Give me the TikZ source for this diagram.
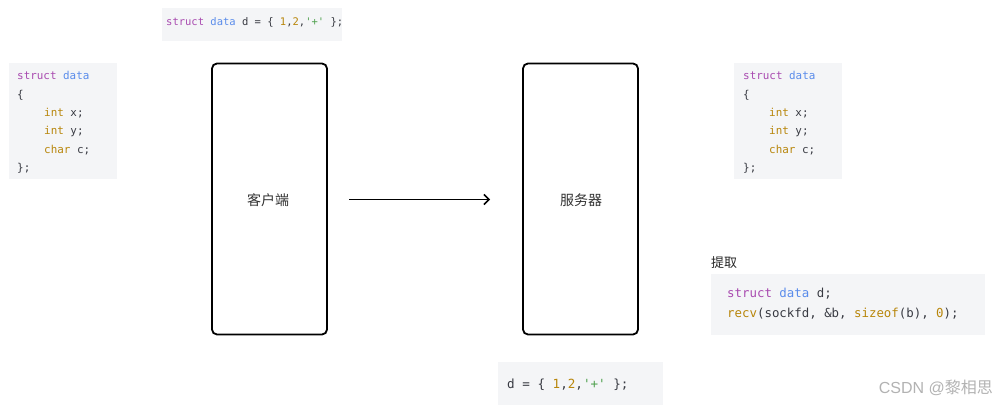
\documentclass[tikz,border=0pt]{standalone}
\usepackage{fontspec}
\setmainfont{Liberation Sans}
\setmonofont{DejaVu Sans Mono}
\newfontfamily\cjk{Noto Sans CJK SC}
\usetikzlibrary{arrows.meta}
\definecolor{kw}{HTML}{A94BB0}
\definecolor{ty}{HTML}{5A8CEB}
\definecolor{num}{HTML}{B8860B}
\definecolor{str}{HTML}{50A14F}
\definecolor{txt}{HTML}{383A42}
\definecolor{codebg}{HTML}{F4F5F7}
\newcommand{\Kw}[1]{\textcolor{kw}{#1}}
\newcommand{\Ty}[1]{\textcolor{ty}{#1}}
\newcommand{\Nm}[1]{\textcolor{num}{#1}}
\newcommand{\St}[1]{\textcolor{str}{#1}}
\tikzset{
  codebox/.style={fill=codebg, draw=none},
  codeline/.style={anchor=mid west, inner sep=0pt, text=txt},
  hostbox/.style={draw=black, line width=1.8pt, rounded corners=5pt, fill=white},
  hostlabel/.style={font=\cjk\fontsize{14}{16}\selectfont, text=black!80},
}
\begin{document}
\begin{tikzpicture}[x=1pt,y=-1pt]
\useasboundingbox (0,0) rectangle (998,411);
% code boxes
\fill[codebox] (162,8) rectangle (342,41);
\fill[codebox] (9,63) rectangle (117,179);
\fill[codebox] (734,63) rectangle (842,179);
\fill[codebox] (711,274) rectangle (985,335);
\fill[codebox] (498,362) rectangle (663,405);
% top
\node[codeline, font=\ttfamily\fontsize{10.5}{12}\selectfont] (top) at (166,23)
  {\Kw{struct} \Ty{data} d = \{ \Nm{1},\Nm{2},\St{'+'} \};};
% struct definitions
\begin{scope}[every node/.style={codeline, font=\ttfamily\fontsize{10.9}{12}\selectfont}]
\node (l1) at (17,77) {\Kw{struct} \Ty{data}};
\node (l2) at (17,95.5) {\{};
\node (l3) at (44,113.5) {\Nm{int} x;};
\node (l4) at (44,132) {\Nm{int} y;};
\node (l5) at (44,150.5) {\Nm{char} c;};
\node (l6) at (17,169) {\};};
\node (r1) at (743,77) {\Kw{struct} \Ty{data}};
\node (r2) at (743,95.5) {\{};
\node (r3) at (769,113.5) {\Nm{int} x;};
\node (r4) at (769,132) {\Nm{int} y;};
\node (r5) at (769,150.5) {\Nm{char} c;};
\node (r6) at (743,169) {\};};
\end{scope}
% hosts
\node[hostbox, minimum width=115pt, minimum height=271pt] (client) at (269.5,199) {};
\node[hostbox, minimum width=115pt, minimum height=271pt] (server) at (580.5,199) {};
\node[hostlabel] (clientlabel) at (268,200) {客户端};
\node[hostlabel] (serverlabel) at (581,200) {服务器};
\coordinate (a1) at (349,199.5);
\coordinate (a2) at (490,199.5);
\draw[line width=1.5pt, -{Straight Barb[length=5pt, width=10pt, line width=1.5pt]}] (a1) -- (a2);
% extract
\node[anchor=mid west, inner sep=0pt, font=\cjk\fontsize{13}{15}\selectfont, text=black!85] (ext) at (711,265) {提取};
\node[codeline, font=\ttfamily\fontsize{12.4}{14}\selectfont] (e1) at (727,294.5) {\Kw{struct} \Ty{data} d;};
\node[codeline, font=\ttfamily\fontsize{12.4}{14}\selectfont] (e2) at (727,314.5) {\Nm{recv}(sockfd, \&b, \Nm{sizeof}(b), \Nm{0});};
% bottom
\node[codeline, font=\ttfamily\fontsize{12.6}{14}\selectfont] (bot) at (507,386) {d = \{ \Nm{1},\Nm{2},\St{'+'} \};};
% watermark
\node[anchor=mid east, inner sep=0pt, text=black!30, font=\fontsize{16}{18}\selectfont] (wm) at (993,391) {CSDN @{\cjk 黎相思}};
\end{tikzpicture}
\end{document}
